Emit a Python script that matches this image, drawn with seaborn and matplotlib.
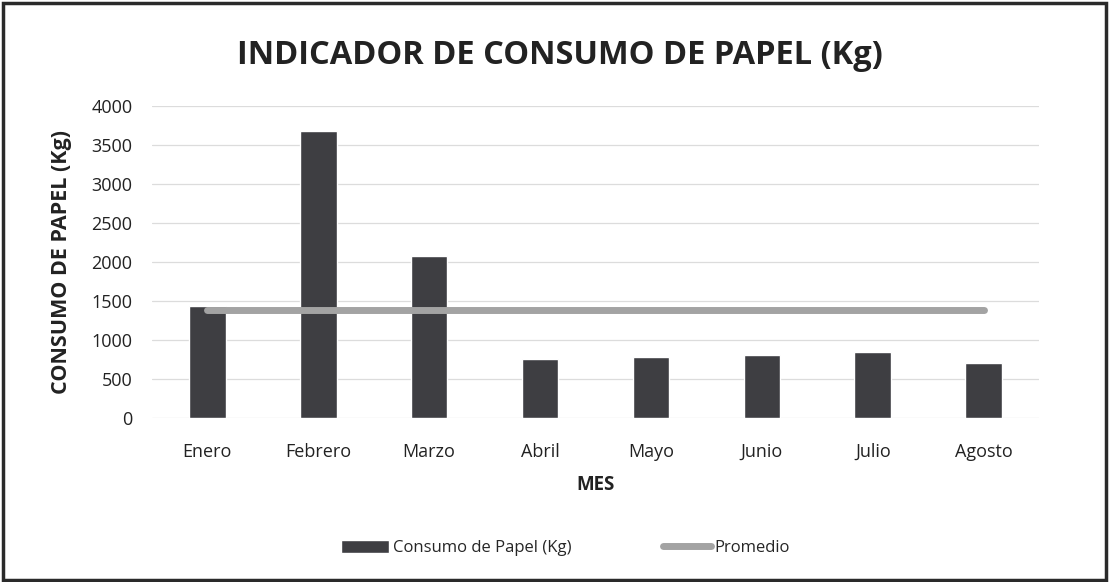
import numpy as np
import pandas as pd
import matplotlib
matplotlib.use("Agg")
import matplotlib.pyplot as plt
import seaborn as sns
from matplotlib.patches import Rectangle

# ==== DATA ====
meses = ["Enero", "Febrero", "Marzo", "Abril", "Mayo", "Junio", "Julio", "Agosto"]
consumo_kg = [1430, 3680, 2070, 760, 780, 810, 840, 700]
y_ticks = [0, 500, 1000, 1500, 2000, 2500, 3000, 3500, 4000]

df = pd.DataFrame({"Mes": meses, "Consumo": consumo_kg})
df["Promedio"] = np.mean(consumo_kg)

sns.set_style("white")
plt.rcParams["font.family"] = ["Open Sans", "DejaVu Sans"]

fig = plt.figure(figsize=(11.09, 5.82), dpi=100)
ax = fig.add_axes([0.137, 0.282, 0.80, 0.536])

sns.barplot(data=df, x="Mes", y="Consumo", color="#3e3e42", width=0.33,
            saturation=1, label="Consumo de Papel (Kg)", ax=ax, zorder=2)
sns.lineplot(x=np.arange(len(meses)), y=df["Promedio"], color="#a3a3a3",
             linewidth=5, label="Promedio", ax=ax, zorder=3)

ax.set_ylim(0, 4000)
ax.set_yticks(y_ticks)
ax.set_xlim(-0.5, len(meses) - 0.5)
ax.grid(axis="y", color="#dcdcdc", linewidth=0.9, zorder=0)
for spine in ax.spines.values():
    spine.set_visible(False)
ax.tick_params(axis="both", length=0, labelsize=13, colors="#222222")
ax.tick_params(axis="x", pad=18)
ax.tick_params(axis="y", pad=14)

ax.set_xlabel("MES", fontsize=13.5, fontweight="bold", color="#222222", labelpad=10)
ax.set_ylabel("CONSUMO DE PAPEL (Kg)", fontsize=15.5, fontweight="bold",
              color="#222222", labelpad=14)

fig.text(0.505, 0.905, "INDICADOR DE CONSUMO DE PAPEL (Kg)", ha="center",
         va="center", fontsize=23.5, fontweight="bold", color="#222222")

# barra primero, luego promedio
handles, labels = ax.get_legend_handles_labels()
order = [labels.index("Consumo de Papel (Kg)"), labels.index("Promedio")]
ax.legend([handles[i] for i in order], [labels[i] for i in order], loc="center",
          bbox_to_anchor=(0.51, 0.058), bbox_transform=fig.transFigure, ncol=2,
          frameon=False, fontsize=12, handlelength=2.9, handleheight=0.8,
          handletextpad=0.2, columnspacing=5.5)

# marco del grafico
fig.patches.append(Rectangle((0.003, 0.004), 0.994, 0.99, transform=fig.transFigure,
                             fill=False, edgecolor="#2a2a2a", linewidth=2.5))

fig.savefig("out.png", dpi=100)
plt.close(fig)
